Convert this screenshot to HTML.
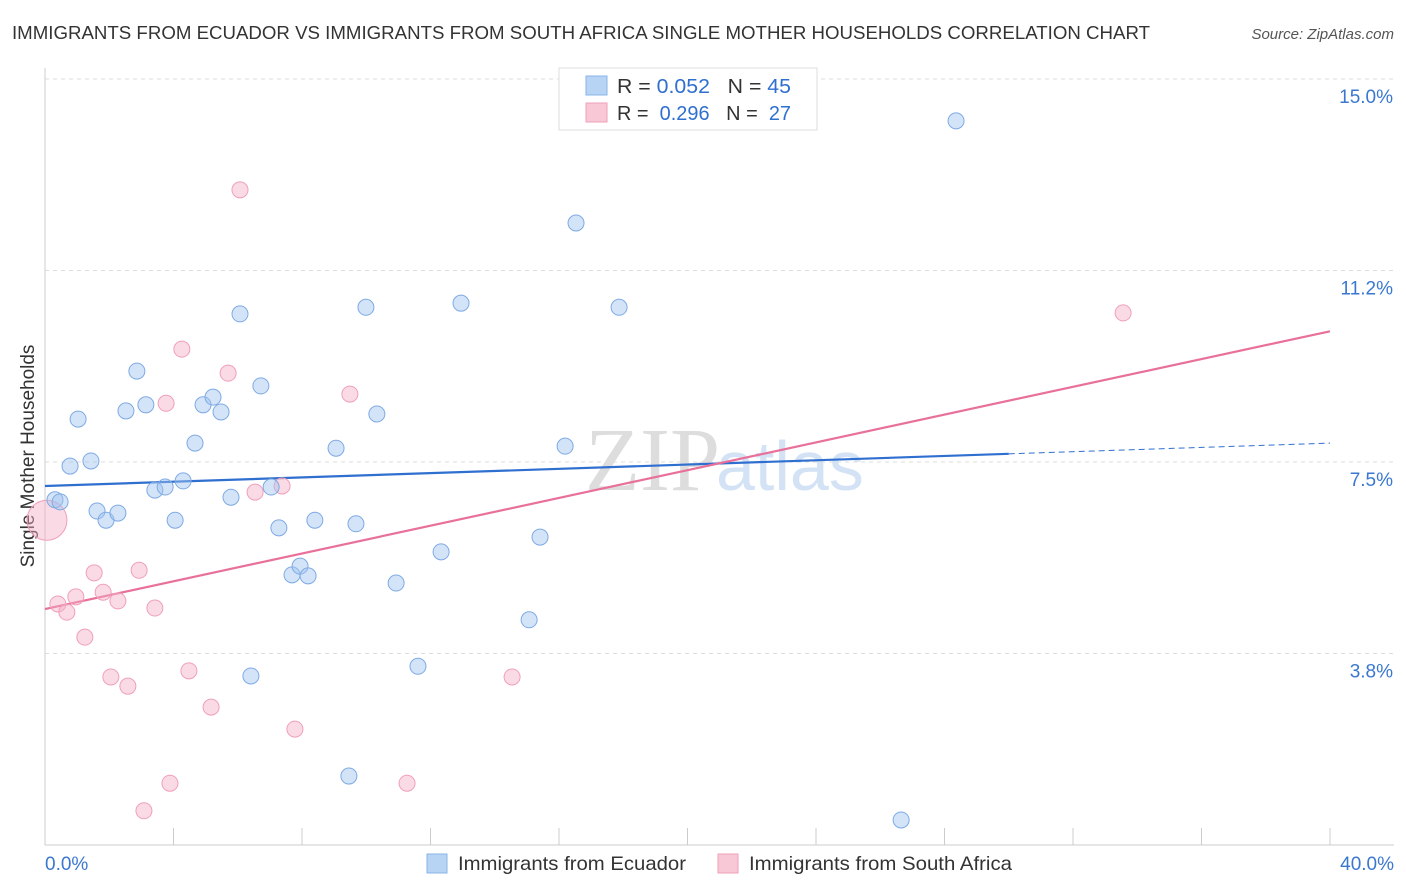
<!DOCTYPE html>
<html><head><meta charset="utf-8"><style>
body{margin:0;background:#fff;font-family:"Liberation Sans",sans-serif}
svg{display:block}
</style></head><body>
<svg id="chart" width="1406" height="892">
<text x="12" y="39" font-size="18" fill="#333" textLength="1138" lengthAdjust="spacingAndGlyphs">IMMIGRANTS FROM ECUADOR VS IMMIGRANTS FROM SOUTH AFRICA SINGLE MOTHER HOUSEHOLDS CORRELATION CHART</text>
<text x="1394" y="39" font-size="15" fill="#555" font-style="italic" text-anchor="end">Source: ZipAtlas.com</text>
<text x="720" y="490" font-size="90" fill="#ddd" text-anchor="end" font-family="Liberation Serif">ZIP</text>
<text x="716" y="490" font-size="70" fill="#d3e3f5">atlas</text>
<text transform="translate(34,456) rotate(-90)" font-size="19" fill="#333" text-anchor="middle">Single Mother Households</text>
<g id="grid"></g><g id="lines"></g><g id="pts"></g>
<rect x="559" y="68" width="258" height="62" fill="#fff" stroke="#ddd"/>
<rect x="586" y="76" width="21" height="19" fill="#b8d4f5" stroke="#8ab4e8"/>
<rect x="586" y="103" width="21" height="19" fill="#f9c8d6" stroke="#f0a0b8"/>
<text x="617" y="93" font-size="20" fill="#333" textLength="174" lengthAdjust="spacingAndGlyphs">R = <tspan fill="#2f6fd0">0.052</tspan>&#160;&#160;&#160;N = <tspan fill="#2f6fd0">45</tspan></text>
<text x="617" y="120" font-size="20" fill="#333" textLength="174" lengthAdjust="spacingAndGlyphs">R = &#160;<tspan fill="#2f6fd0">0.296</tspan>&#160;&#160;&#160;N = &#160;<tspan fill="#2f6fd0">27</tspan></text>
<text x="45" y="870" font-size="19" fill="#3a78d0">0.0%</text>
<text x="1394" y="870" font-size="19" fill="#3a78d0" text-anchor="end">40.0%</text>
<rect x="427" y="854" width="20" height="19" fill="#b8d4f5" stroke="#8ab4e8"/>
<text x="458" y="870" font-size="19.5" fill="#333" textLength="228" lengthAdjust="spacingAndGlyphs">Immigrants from Ecuador</text>
<rect x="718" y="854" width="20" height="19" fill="#f9c8d6" stroke="#f0a0b8"/>
<text x="749" y="870" font-size="19.5" fill="#333" textLength="263" lengthAdjust="spacingAndGlyphs">Immigrants from South Africa</text>
</svg>
<script>
const yTicks=[15.0,11.25,7.5,3.75];
const yTickLabels=["15.0%","11.2%","7.5%","3.8%"];
const xTicks=[0,4,8,12,16,20,24,28,32,36,40];
const ecuadorX=[0.31,0.47,0.78,1.03,1.43,1.62,1.90,2.27,2.52,2.86,3.14,3.42,3.74,4.05,4.30,4.67,4.92,5.23,5.48,5.79,6.07,6.72,7.04,7.28,7.69,7.94,8.19,8.40,9.06,9.46,9.68,9.99,10.33,10.93,11.61,12.33,12.95,15.07,15.41,16.19,16.53,17.87,26.65,28.36,6.41];
const ecuadorY=[6.76,6.72,7.42,8.34,7.52,6.54,6.36,6.50,8.50,9.28,8.62,6.95,7.01,6.36,7.13,7.87,8.62,8.77,8.48,6.81,10.40,8.99,7.01,6.21,5.29,5.46,5.27,6.36,7.77,1.35,6.29,10.53,8.44,5.13,3.50,5.74,10.61,4.41,6.03,7.81,12.18,10.53,0.49,14.18,3.31];
const safricaX=[0.06,0.40,0.68,0.96,1.24,1.53,1.81,2.05,2.27,2.58,2.93,3.08,3.42,3.89,4.26,4.48,3.77,5.17,5.70,6.07,6.54,7.38,7.78,9.49,11.27,14.54,33.56];
const safricaY=[6.36,4.72,4.56,4.86,4.07,5.33,4.95,3.29,4.78,3.11,5.38,0.67,4.64,1.21,9.71,3.41,8.65,2.70,9.24,12.83,6.91,7.03,2.27,8.83,1.21,3.29,10.42];
const ecuadorTrend=[7.03,7.66,7.87]; // at x=0, 30, 40
const safricaTrend=[4.62,10.06]; // at x=0, 40
const X=v=>45+v*1285/40, Y=v=>845-v*766/15;
const NS="http://www.w3.org/2000/svg";
function mk(tag,attrs,parent){const e=document.createElementNS(NS,tag);for(const k in attrs)e.setAttribute(k,attrs[k]);document.getElementById(parent).appendChild(e);return e;}
yTicks.forEach((t,i)=>{
 let l=mk('line',{x1:45,x2:1394,y1:Y(t),y2:Y(t),stroke:'#ddd','stroke-dasharray':'4,4'},'grid');
 
 
 let tx=mk('text',{x:1393,y:Y(t)+24,'font-size':19,fill:'#3a78d0','text-anchor':'end'},'grid');tx.textContent=yTickLabels[i];
 
 
});
let ax=mk('line',{x1:45,x2:1394,y1:845,y2:845,stroke:'#ccc'},'grid');


let ay=mk('line',{x1:45,x2:45,y1:68,y2:845,stroke:'#ccc'},'grid');


xTicks.forEach(t=>{let l=mk('line',{x1:X(t),x2:X(t),y1:828,y2:845,stroke:'#ccc'},'grid');
 
 });
function pts(xs,ys,fill,stroke,name){xs.forEach((x,i)=>{
 let c=mk('circle',{cx:X(x),cy:Y(ys[i]),r:(name==='south-africa-point'&&i===0)?20:8,fill:fill,stroke:stroke,'stroke-width':1},'pts');
 
 });}
pts(safricaX,safricaY,'rgba(245,175,198,0.45)','#f0a0b8','south-africa-point');
pts(ecuadorX,ecuadorY,'rgba(160,196,240,0.45)','#7eaae4','ecuador-point');
let b1=mk('line',{x1:X(0),y1:Y(ecuadorTrend[0]),x2:X(30),y2:Y(ecuadorTrend[1]),stroke:'#2f6fd0','stroke-width':2.2},'lines');


let b2=mk('line',{x1:X(30),y1:Y(ecuadorTrend[1]),x2:X(40),y2:Y(ecuadorTrend[2]),stroke:'#2f6fd0','stroke-width':1,'stroke-dasharray':'6,4'},'lines');


let p1=mk('line',{x1:X(0),y1:Y(safricaTrend[0]),x2:X(40),y2:Y(safricaTrend[1]),stroke:'#e8709a','stroke-width':2.2},'lines');


</script>
</body></html>
